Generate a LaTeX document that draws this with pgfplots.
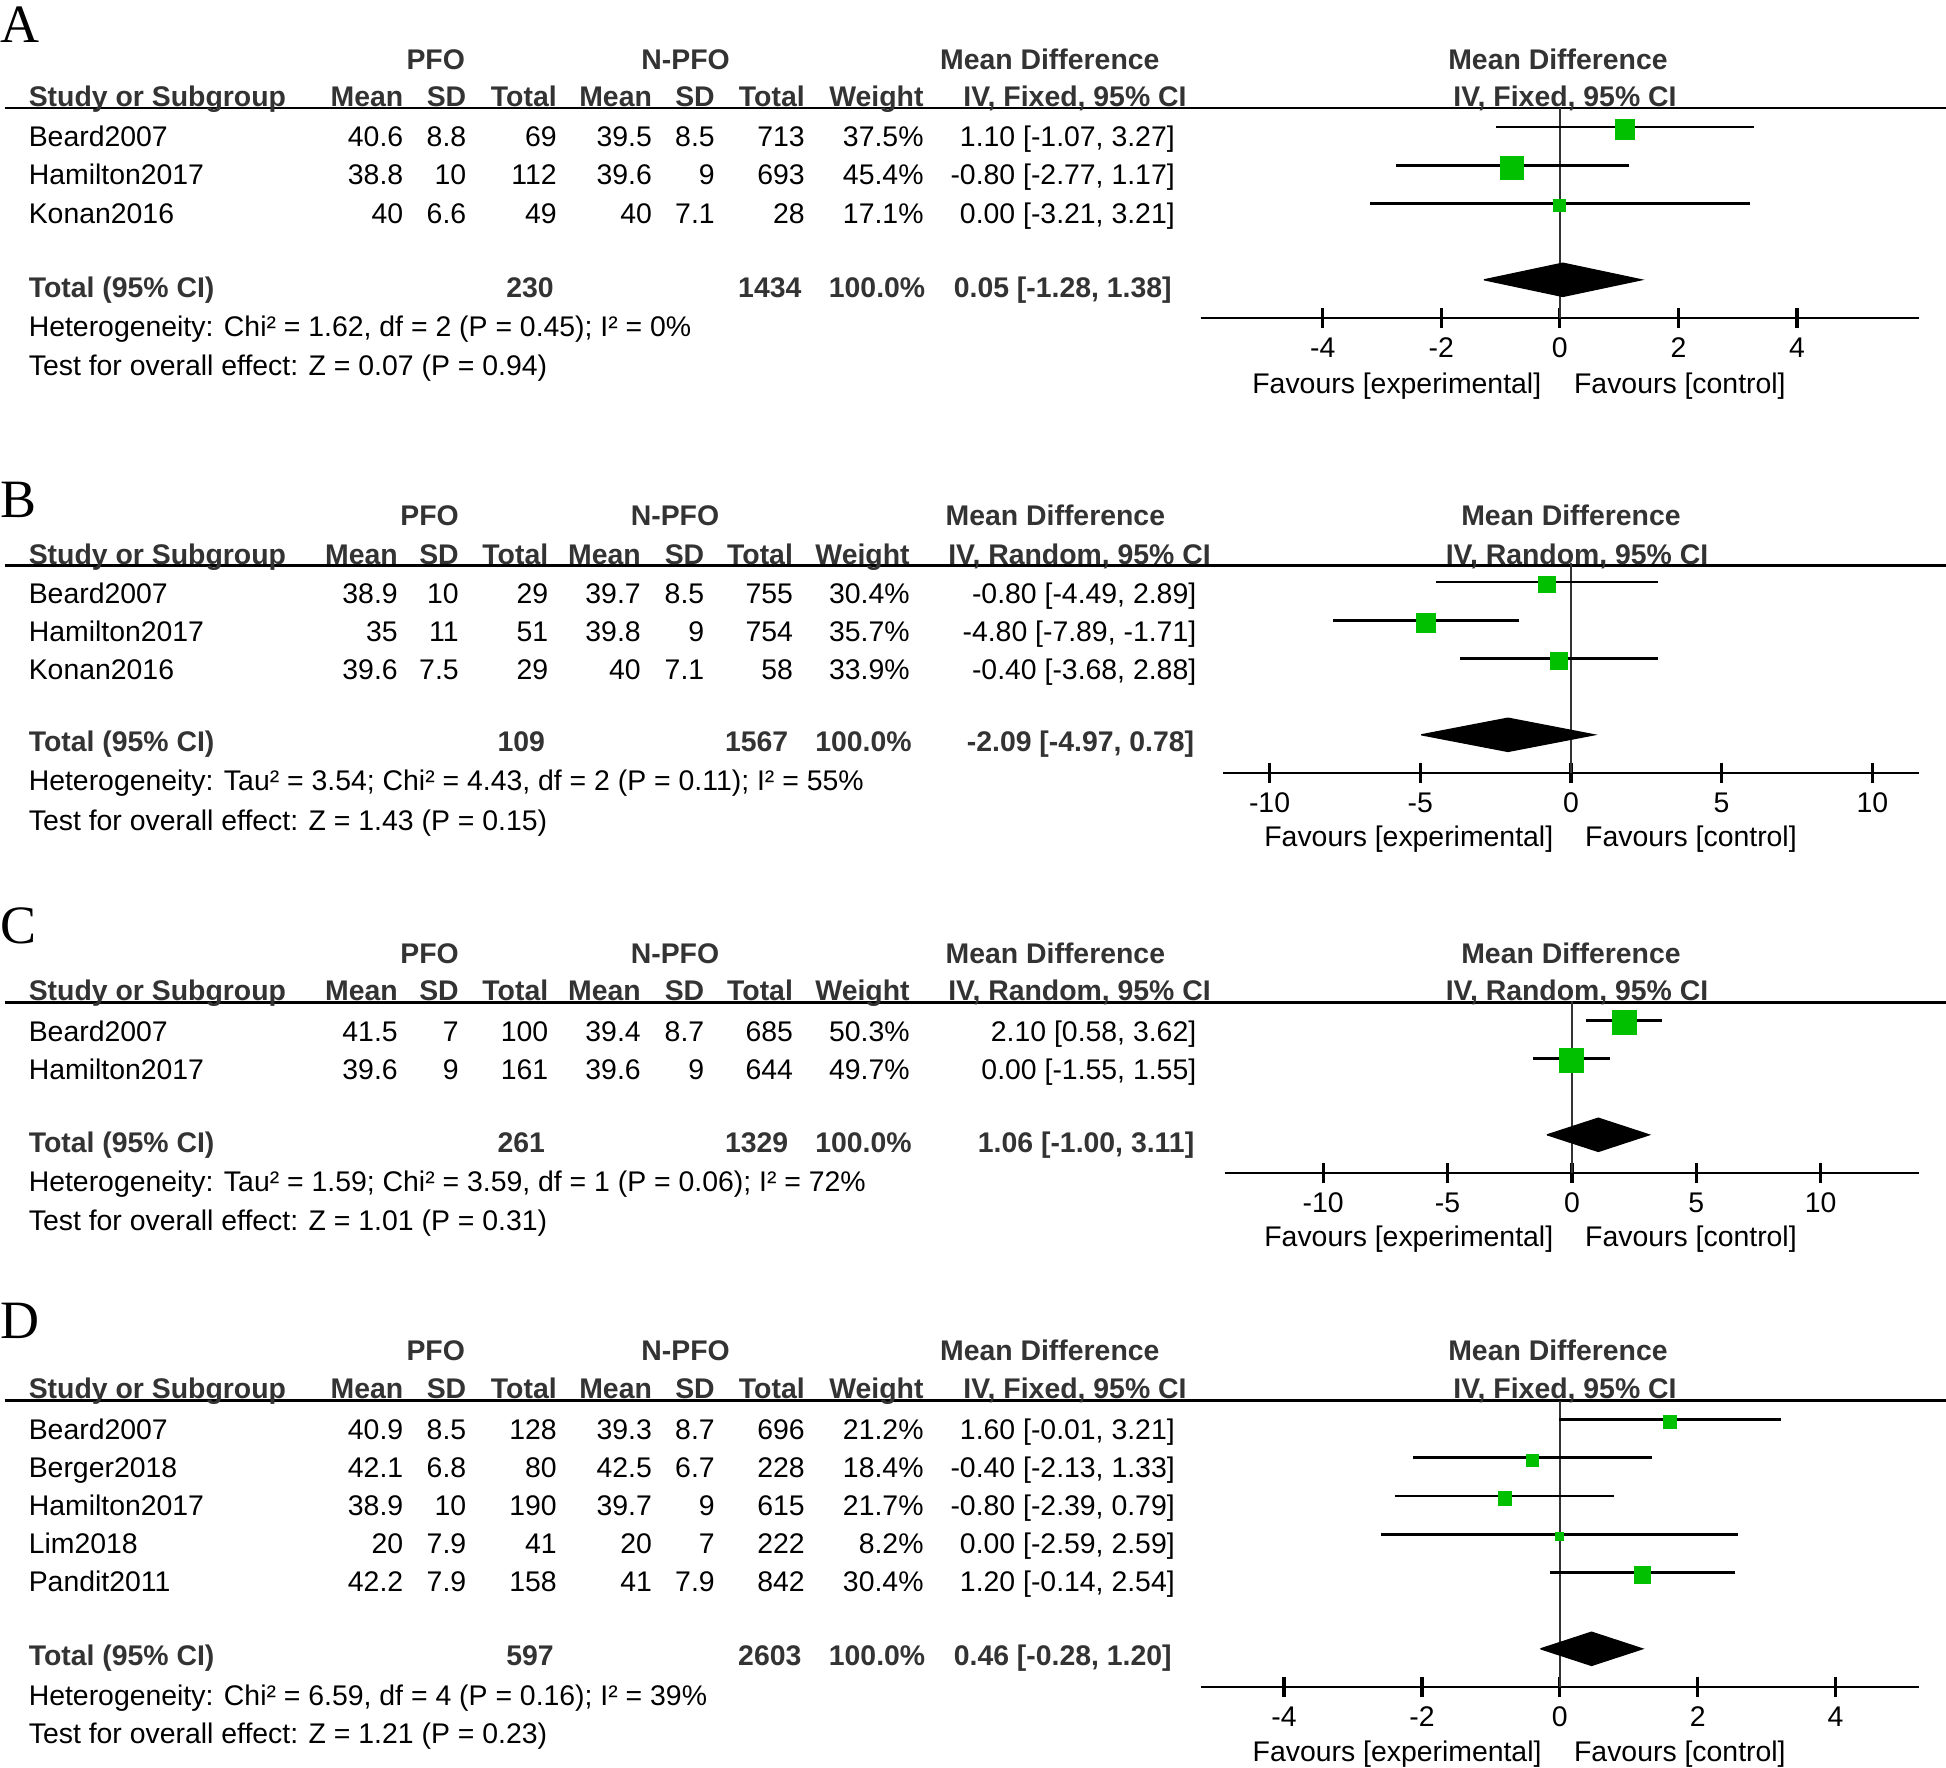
\documentclass[border=0pt]{standalone}
\usepackage{fontspec}
\setmainfont{Liberation Sans}
\newfontfamily\seriffont{Liberation Serif}
\usepackage{pgfplots}
\pgfplotsset{compat=1.18}
\usepackage{pgfplotstable}
\definecolor{fgreen}{RGB}{0,192,0}
\definecolor{hdr}{RGB}{51,51,51}
\newcommand\fs{\fontsize{7.1pt}{8.5pt}\selectfont}

% study tables: row, mean difference, lower, upper, square side (px)
\pgfplotstableread{
row md lo hi side
1 1.10 -1.07 3.27 19.3
2 -0.80 -2.77 1.17 23.0
3 0.00 -3.21 3.21 12.0
}\studA
\pgfplotstableread{
row md lo hi side
1 -0.80 -4.49 2.89 16.6
2 -4.80 -7.89 -1.71 18.7
3 -0.40 -3.68 2.88 17.7
}\studB
\pgfplotstableread{
row md lo hi side
1 2.10 0.58 3.62 24.0
2 0.00 -1.55 1.55 24.0
}\studC
\pgfplotstableread{
row md lo hi side
1 1.60 -0.01 3.21 13.2
2 -0.40 -2.13 1.33 12.4
3 -0.80 -2.39 0.79 13.1
4 0.00 -2.59 2.59 8.2
5 1.20 -0.14 2.54 16.6
}\studD

\pgfplotsset{forest/.style={
  scale only axis, clip=false, anchor=south west,
  axis x line=bottom, axis y line=none,
  axis line style={-, line width=0.7pt, black},
  tick align=center, major tick length=5pt,
  tick style={black, line width=0.8pt},
  ytick=\empty,
  xticklabel style={anchor=base, yshift=-7.3pt, inner sep=0pt, font=\fs},
}}

\newcommand\forestdata[1]{%
  \addplot[forget plot, draw=none, mark=none,
    error bars/.cd, x dir=both, x explicit, error mark=none,
    error bar style={line width=0.68pt, black}]
    table[x=md, y expr=-\thisrow{row},
      x error plus expr=\thisrow{hi}-\thisrow{md},
      x error minus expr=\thisrow{md}-\thisrow{lo}] {#1};
  \addplot[scatter, only marks, mark=square*,
    scatter/use mapped color={draw=fgreen, fill=fgreen},
    visualization depends on={\thisrow{side}*0.125 \as \msz},
    scatter/@pre marker code/.append style={/tikz/mark size=\msz},
    mark options={yshift=-0.625pt, line width=0pt}]
    table[x=md, y expr=-\thisrow{row}] {#1};
}

\newcommand\fixedcols{\def\xn{28}\def\xa{404}\def\xb{467}\def\xc{557.5}\def\xd{652.7}\def\xe{715.5}\def\xf{805.5}\def\xw{924.3}\def\xci{1175.5}%
  \def\xtn{554.5}\def\xtm{802.2}\def\xtw{926}\def\xtci{1172.5}}
\newcommand\randomcols{\def\xn{28}\def\xa{398.5}\def\xb{459.5}\def\xc{549}\def\xd{641.5}\def\xe{705}\def\xf{793.7}\def\xw{910.4}\def\xci{1197}%
  \def\xtn{545.7}\def\xtm{789}\def\xtw{912.4}\def\xtci{1195}}

\newcommand\hdr[9]{%
  \node[hd, anchor=base] at (#3,#1) {PFO};
  \node[hd, anchor=base] at (#4,#1) {N-PFO};
  \node[hd, anchor=base] at (#5,#1) {Mean Difference};
  \node[hd, anchor=base] at (#8,#1) {Mean Difference};
  \node[hd, anchor=base west] at (\xn,#2) {Study or Subgroup};
  \node[hd, anchor=base east] at (\xa,#2) {Mean};
  \node[hd, anchor=base east] at (\xb,#2) {SD};
  \node[hd, anchor=base east] at (\xc,#2) {Total};
  \node[hd, anchor=base east] at (\xd,#2) {Mean};
  \node[hd, anchor=base east] at (\xe,#2) {SD};
  \node[hd, anchor=base east] at (\xf,#2) {Total};
  \node[hd, anchor=base east] at (\xw,#2) {Weight};
  \node[hd, anchor=base] at (#6,#2) {IV, #7, 95\% CI};
  \node[hd, anchor=base] at (#9,#2) {IV, #7, 95\% CI};
}
\newcommand\srow[9]{%
  \node[anchor=base west] at (\xn,#1) {#2};
  \node[anchor=base east] at (\xa,#1) {#3};
  \node[anchor=base east] at (\xb,#1) {#4};
  \node[anchor=base east] at (\xc,#1) {#5};
  \node[anchor=base east] at (\xd,#1) {#6};
  \node[anchor=base east] at (\xe,#1) {#7};
  \node[anchor=base east] at (\xf,#1) {#8};
  \node[anchor=base east] at (\xw,#1) {#9};
}
\newcommand\ci[2]{\node[anchor=base east] at (\xci,#1) {#2};}
\newcommand\trow[4]{%
  \node[hd, anchor=base west] at (\xn,#1) {Total (95\% CI)};
  \node[hd, anchor=base east] at (\xtn,#1) {#2};
  \node[hd, anchor=base east] at (\xtm,#1) {#3};
  \node[hd, anchor=base east] at (\xtw,#1) {100.0\%};
  \node[hd, anchor=base east] at (\xtci,#1) {#4};
}

\begin{document}
\begin{tikzpicture}
\path[use as bounding box] (0pt,0pt) rectangle (486.5pt,-441.75pt);

\begin{scope}[x=0.25pt, y=-0.25pt,
  every node/.style={inner sep=0pt, font=\fs},
  hd/.style={font=\fs\bfseries, text=hdr},
  let/.style={font=\seriffont\fontsize{13.5pt}{15pt}\selectfont, anchor=base west}]

% ---------------- Panel A ----------------
\fixedcols
\node[let] at (0,42) {A};
\draw[line width=0.68pt] (4.5,108) -- (1946,108);
\hdr{69}{106}{435.7}{685.6}{1049.8}{1075}{Fixed}{1558}{1565}
\srow{146.7}{Beard2007}{40.6}{8.8}{69}{39.5}{8.5}{713}{37.5\%}\ci{146.7}{1.10 [-1.07, 3.27]}
\srow{184.9}{Hamilton2017}{38.8}{10}{112}{39.6}{9}{693}{45.4\%}\ci{184.9}{-0.80 [-2.77, 1.17]}
\srow{223.1}{Konan2016}{40}{6.6}{49}{40}{7.1}{28}{17.1\%}\ci{223.1}{0.00 [-3.21, 3.21]}
\trow{297.5}{230}{1434}{0.05 [-1.28, 1.38]}
\node[anchor=base west] at (28,336.7) {Heterogeneity: Chi² = 1.62, df = 2 (P = 0.45); I² = 0\%};
\node[anchor=base west] at (28,375.5) {Test for overall effect: Z = 0.07 (P = 0.94)};
\node[anchor=base east] at (1542,393) {Favours [experimental]};
\node[anchor=base west] at (1573.3,393) {Favours [control]};

% ---------------- Panel B ----------------
\randomcols
\node[let] at (0,517) {B};
\draw[line width=0.68pt] (4.5,565.7) -- (1946,565.7);
\hdr{525.8}{564}{429.6}{675}{1055.4}{1079.5}{Random}{1571}{1577}
\srow{603.3}{Beard2007}{38.9}{10}{29}{39.7}{8.5}{755}{30.4\%}\ci{603.3}{-0.80 [-4.49, 2.89]}
\srow{641.6}{Hamilton2017}{35}{11}{51}{39.8}{9}{754}{35.7\%}\ci{641.6}{-4.80 [-7.89, -1.71]}
\srow{679.2}{Konan2016}{39.6}{7.5}{29}{40}{7.1}{58}{33.9\%}\ci{679.2}{-0.40 [-3.68, 2.88]}
\trow{751}{109}{1567}{-2.09 [-4.97, 0.78]}
\node[anchor=base west] at (28,790.5) {Heterogeneity: Tau² = 3.54; Chi² = 4.43, df = 2 (P = 0.11); I² = 55\%};
\node[anchor=base west] at (28,830) {Test for overall effect: Z = 1.43 (P = 0.15)};
\node[anchor=base east] at (1554,846.7) {Favours [experimental]};
\node[anchor=base west] at (1584.4,846.7) {Favours [control]};

% ---------------- Panel C ----------------
\node[let] at (0,943) {C};
\draw[line width=0.68pt] (4.5,1002.7) -- (1946,1002.7);
\hdr{963}{1000.7}{429.6}{675}{1055.4}{1079.5}{Random}{1571}{1577}
\srow{1041.4}{Beard2007}{41.5}{7}{100}{39.4}{8.7}{685}{50.3\%}\ci{1041.4}{2.10 [0.58, 3.62]}
\srow{1079.6}{Hamilton2017}{39.6}{9}{161}{39.6}{9}{644}{49.7\%}\ci{1079.6}{0.00 [-1.55, 1.55]}
\trow{1152}{261}{1329}{1.06 [-1.00, 3.11]}
\node[anchor=base west] at (28,1191.4) {Heterogeneity: Tau² = 1.59; Chi² = 3.59, df = 1 (P = 0.06); I² = 72\%};
\node[anchor=base west] at (28,1230) {Test for overall effect: Z = 1.01 (P = 0.31)};
\node[anchor=base east] at (1554,1246.7) {Favours [experimental]};
\node[anchor=base west] at (1584.4,1246.7) {Favours [control]};

% ---------------- Panel D ----------------
\fixedcols
\node[let] at (0,1338) {D};
\draw[line width=0.68pt] (4.5,1400.7) -- (1946,1400.7);
\hdr{1360.8}{1398.3}{435.7}{685.6}{1049.8}{1075}{Fixed}{1558}{1565}
\srow{1439}{Beard2007}{40.9}{8.5}{128}{39.3}{8.7}{696}{21.2\%}\ci{1439}{1.60 [-0.01, 3.21]}
\srow{1477}{Berger2018}{42.1}{6.8}{80}{42.5}{6.7}{228}{18.4\%}\ci{1477}{-0.40 [-2.13, 1.33]}
\srow{1515.2}{Hamilton2017}{38.9}{10}{190}{39.7}{9}{615}{21.7\%}\ci{1515.2}{-0.80 [-2.39, 0.79]}
\srow{1553.4}{Lim2018}{20}{7.9}{41}{20}{7}{222}{8.2\%}\ci{1553.4}{0.00 [-2.59, 2.59]}
\srow{1591.7}{Pandit2011}{42.2}{7.9}{158}{41}{7.9}{842}{30.4\%}\ci{1591.7}{1.20 [-0.14, 2.54]}
\trow{1665}{597}{2603}{0.46 [-0.28, 1.20]}
\node[anchor=base west] at (28,1705) {Heterogeneity: Chi² = 6.59, df = 4 (P = 0.16); I² = 39\%};
\node[anchor=base west] at (28,1743.3) {Test for overall effect: Z = 1.21 (P = 0.23)};
\node[anchor=base east] at (1542.3,1761.7) {Favours [experimental]};
\node[anchor=base west] at (1573.3,1761.7) {Favours [control]};
\end{scope}

% ---------------- Forest plot axes ----------------
\begin{axis}[forest, at={(300.15pt,-79.5pt)}, width=179.6pt, height=52.53pt,
  xmin=-6.06, xmax=6.06, ymin=-6, ymax=-0.5,
  xtick={-4,-2,0,2,4}, xticklabels={-4,-2,0,2,4}]
  \addplot[black!80, line width=0.6pt] coordinates {(0,-0.5) (0,-6)};
  \forestdata{\studA}
  \addplot[fill=black, draw=black, line width=0.3pt] coordinates {(-1.28,-5) (0.05,-4.563) (1.38,-5) (0.05,-5.437) (-1.28,-5)};
\end{axis}

\begin{axis}[forest, at={(305.7pt,-193.25pt)}, width=174.05pt, height=52.53pt,
  xmin=-11.55, xmax=11.55, ymin=-6, ymax=-0.5,
  xtick={-10,-5,0,5,10}, xticklabels={-10,-5,0,5,10}]
  \addplot[black!80, line width=0.6pt] coordinates {(0,-0.5) (0,-6)};
  \forestdata{\studB}
  \addplot[fill=black, draw=black, line width=0.3pt] coordinates {(-4.97,-5) (-2.09,-4.563) (0.78,-5) (-2.09,-5.437) (-4.97,-5)};
\end{axis}

\begin{axis}[forest, at={(306.175pt,-293.25pt)}, width=173.6pt, height=42.98pt,
  xmin=-13.96, xmax=13.96, ymin=-5, ymax=-0.5,
  xtick={-10,-5,0,5,10}, xticklabels={-10,-5,0,5,10}]
  \addplot[black!80, line width=0.6pt] coordinates {(0,-0.5) (0,-5)};
  \forestdata{\studC}
  \addplot[fill=black, draw=black, line width=0.3pt] coordinates {(-1.00,-4) (1.06,-3.563) (3.11,-4) (1.06,-4.437) (-1.00,-4)};
\end{axis}

\begin{axis}[forest, at={(300.15pt,-421.75pt)}, width=179.6pt, height=71.63pt,
  xmin=-5.21, xmax=5.21, ymin=-8, ymax=-0.5,
  xtick={-4,-2,0,2,4}, xticklabels={-4,-2,0,2,4}]
  \addplot[black!80, line width=0.6pt] coordinates {(0,-0.5) (0,-8)};
  \forestdata{\studD}
  \addplot[fill=black, draw=black, line width=0.3pt] coordinates {(-0.28,-7) (0.46,-6.563) (1.20,-7) (0.46,-7.437) (-0.28,-7)};
\end{axis}
\end{tikzpicture}
\end{document}
